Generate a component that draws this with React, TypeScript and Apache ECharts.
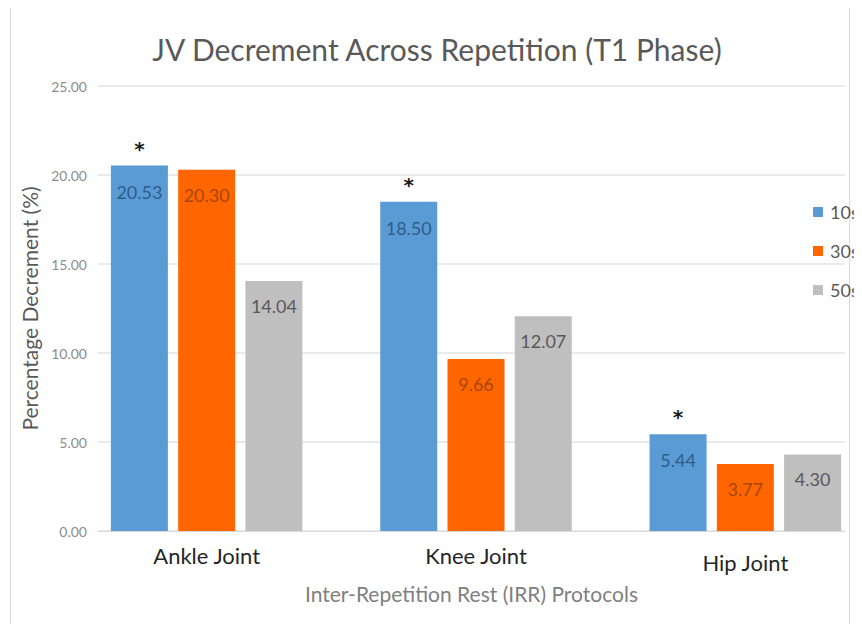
import React, { useEffect, useRef } from "react";
import * as echarts from "echarts";

const categories = ["Ankle Joint", "Knee Joint", "Hip Joint"];
const seriesNames = ["10s", "30s", "50s"];
const values10s = [20.53, 18.5, 5.44];
const values30s = [20.3, 9.66, 3.77];
const values50s = [14.04, 12.07, 4.3];
const yTicks = [0, 5, 10, 15, 20, 25];
const significant = [true, true, true];

const FONT = "Lato";

export default function App() {
  const ref = useRef<HTMLDivElement>(null);
  useEffect(() => {
    if (!ref.current) return;
    const chart = echarts.init(ref.current, null, { renderer: "svg" });
    const valueLabel = (color: string) => ({
      show: true,
      position: "insideTop",
      distance: 16,
      color,
      fontFamily: FONT,
      fontSize: 18,
      formatter: (p: any) => p.value.toFixed(2),
    });
    const option: any = {
      animation: false,
      backgroundColor: "#ffffff",
      title: {
        text: "JV Decrement Across Repetition (T1 Phase)",
        left: 432,
        top: 29,
        textAlign: "center",
        textStyle: { fontFamily: FONT, fontSize: 30, fontWeight: "normal", color: "#595959" },
      },
      legend: {
        data: seriesNames,
        orient: "vertical",
        left: 813,
        top: 203,
        padding: 0,
        itemWidth: 10,
        itemHeight: 10,
        itemGap: 21,
        icon: "rect",
        textStyle: { fontFamily: FONT, fontSize: 18, color: "#595959", padding: [0, 0, 0, 2] },
      },
      graphic: [
        {
          type: "rect",
          shape: { x: 10.5, y: 7.5, width: 839, height: 620 },
          style: { fill: "none", stroke: "#d9d9d9", lineWidth: 1 },
          silent: true,
          z: -10,
        },
      ],
      grid: [
        { left: 72, top: 86, width: 808, height: 445, outerBoundsMode: "none", containLabel: false },
        { left: 98, top: 86, width: 747, height: 445, outerBoundsMode: "none", containLabel: false },
      ],
      xAxis: [
        {
          type: "category",
          gridIndex: 0,
          data: categories,
          axisLine: { show: false },
          axisTick: { show: false },
          axisLabel: {
            margin: 13,
            fontFamily: FONT,
            fontSize: 22,
            color: "#262626",
            formatter: (v: string, i: number) => (i === 2 ? "{low|" + v + "}" : "{n|" + v + "}"),
            rich: {
              n: { fontFamily: FONT, fontSize: 22, color: "#262626" },
              low: { fontFamily: FONT, fontSize: 22, color: "#262626", padding: [7, 0, 0, 0] },
            },
          },
        },
        {
          type: "category",
          gridIndex: 1,
          data: categories,
          axisLine: { show: true, lineStyle: { color: "#d9d9d9" } },
          axisTick: { show: false },
          axisLabel: { show: false },
          name: "Inter-Repetition Rest (IRR) Protocols",
          nameLocation: "middle",
          nameGap: 52,
          nameTextStyle: { fontFamily: FONT, fontSize: 21, color: "#7f7f7f" },
        },
      ],
      yAxis: [
        {
          type: "value",
          gridIndex: 0,
          min: 0,
          max: 25,
          interval: 5,
          show: false,
          splitLine: { show: false },
        },
        {
          type: "value",
          gridIndex: 1,
          min: 0,
          max: 25,
          interval: 5,
          axisLine: { show: false },
          axisTick: { show: false },
          splitLine: { show: true, lineStyle: { color: "#e3e3e3", width: 1.5 } },
          axisLabel: {
            margin: 11,
            fontFamily: FONT,
            fontSize: 14,
            color: "#8c8c8c",
            formatter: (v: number) => (yTicks.includes(v) ? v.toFixed(2) : ""),
          },
          name: "Percentage Decrement (%)",
          nameLocation: "middle",
          nameRotate: 90,
          nameGap: 58,
          nameTextStyle: { fontFamily: FONT, fontSize: 21, color: "#595959" },
        },
      ],
      series: [
        {
          name: seriesNames[0],
          type: "bar",
          xAxisIndex: 0,
          yAxisIndex: 0,
          data: values10s,
          barWidth: 57,
          barGap: "18%",
          itemStyle: { color: "#5b9bd5" },
          label: {
            show: true,
            position: ["50%", -27],
            align: "center",
            verticalAlign: "top",
            formatter: (p: any) =>
              (significant[p.dataIndex] ? "{s|*}" : "{s| }") + "\n{v|" + p.value.toFixed(2) + "}",
            rich: {
              s: { fontFamily: "DejaVu Sans", fontSize: 20, fontWeight: "bold", color: "#1a1a1a", lineHeight: 20, align: "center" },
              v: { fontFamily: FONT, fontSize: 18, color: "#2e5d87", lineHeight: 66, align: "center" },
            },
          },
          z: 3,
        },
        {
          name: seriesNames[1],
          type: "bar",
          xAxisIndex: 0,
          yAxisIndex: 0,
          data: values30s,
          barWidth: 57,
          barGap: "18%",
          itemStyle: { color: "#ff6600" },
          label: valueLabel("#a84500"),
          z: 3,
        },
        {
          name: seriesNames[2],
          type: "bar",
          xAxisIndex: 0,
          yAxisIndex: 0,
          data: values50s,
          barWidth: 57,
          barGap: "18%",
          itemStyle: { color: "#bfbfbf" },
          label: valueLabel("#595959"),
          z: 3,
        },
        {
          type: "bar",
          xAxisIndex: 1,
          yAxisIndex: 1,
          data: [],
          silent: true,
        },
      ],
    };
    chart.setOption(option);
    return () => chart.dispose();
  }, []);
  return <div ref={ref} style={{ width: 862, height: 632, margin: -8 }} />;
}
